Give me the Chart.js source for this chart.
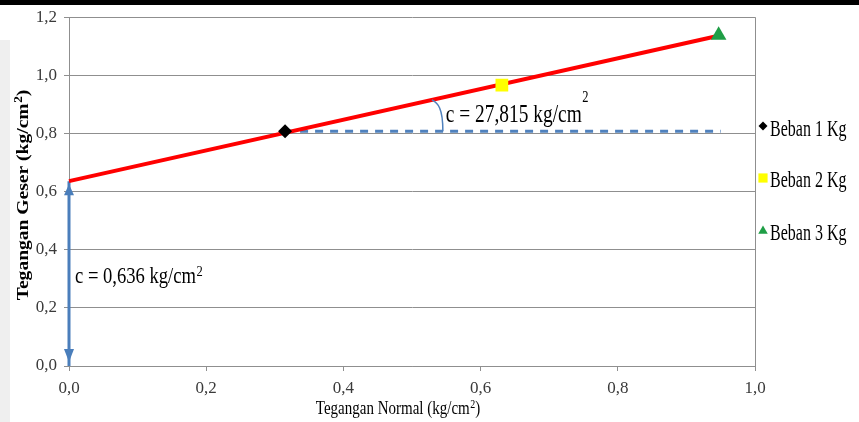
<!DOCTYPE html>
<html>
<head>
<meta charset="utf-8">
<title>Tegangan Geser vs Tegangan Normal</title>
<script src="https://cdn.jsdelivr.net/npm/chart.js@4.4.1/dist/chart.umd.min.js"></script>
<style>
  html, body { margin: 0; padding: 0; background: #ffffff; }
  #wrap { width: 859px; height: 422px; position: relative; }
  canvas { display: block; }
</style>
</head>
<body>
<div id="wrap"><canvas id="chart" width="859" height="422"></canvas></div>
<script>
// Direct shear test results: normal stress vs shear stress per load
const seriesNames  = ['Beban 1 Kg', 'Beban 2 Kg', 'Beban 3 Kg'];
const normalStress = [0.315, 0.631, 0.947];   // kg/cm2
const shearStress  = [0.808, 0.966, 1.138];   // kg/cm2

// Mohr-Coulomb failure envelope
const cohesion      = 0.636;    // kg/cm2, intercept
const frictionAngle = 27.815;   // degrees
const trendX = [0, 0.947];
const trendY = [0.636, 1.136];

// horizontal reference line from the first point, and the angle marker
const refLineEndX = 0.95;
const arcStartX = 0.529;
const arcEndX = 0.545;

const xTickLabels = ['0,0', '0,2', '0,4', '0,6', '0,8', '1,0'];
const yTickLabels = ['0,0', '0,2', '0,4', '0,6', '0,8', '1,0', '1,2'];

const SERIF = '"Liberation Serif", "Times New Roman", Times, serif';
const markerStyles = [
  { pointStyle: 'rectRot',  color: '#000000', radius: 7, legendRadius: 4.5 },
  { pointStyle: 'rect',     color: '#ffff00', radius: 9, legendRadius: 6.5 },
  { pointStyle: 'triangle', color: '#1f9e46', radius: 9, legendRadius: 5.5 }
];

const fmt = (v) => String(v).replace('.', ',');

const pointSets = seriesNames.map((name, i) => ({
  label: name,
  data: [{ x: normalStress[i], y: shearStress[i] }],
  pointStyle: markerStyles[i].pointStyle,
  pointRadius: markerStyles[i].radius,
  pointBackgroundColor: markerStyles[i].color,
  pointBorderColor: markerStyles[i].color,
  pointBorderWidth: 0,
  showLine: false
}));

const trendSet = {
  label: 'trend',
  data: trendX.map((x, i) => ({ x, y: trendY[i] })),
  showLine: true,
  borderColor: '#ff0000',
  borderWidth: 4,
  pointRadius: 0,
  clip: false
};

const refSet = {
  label: 'ref',
  data: [{ x: normalStress[0], y: shearStress[0] }, { x: refLineEndX, y: shearStress[0] }],
  showLine: true,
  borderColor: '#4f81bd',
  borderWidth: 3,
  borderDash: [8, 7],
  pointRadius: 0
};

const cohesionSet = {
  label: 'c',
  data: [{ x: 0, y: cohesion }, { x: 0, y: 0 }],
  showLine: true,
  borderColor: '#4a7ebb',
  borderWidth: 3,
  pointRadius: 0,
  clip: false
};

function drawText(ctx, text, x, y, size, weight, sy) {
  ctx.save();
  ctx.translate(x, y);
  ctx.scale(1, sy);
  ctx.font = `${weight} ${size}px ${SERIF}`;
  ctx.textAlign = 'left';
  ctx.textBaseline = 'alphabetic';
  ctx.fillText(text, 0, 0);
  const w = ctx.measureText(text).width;
  ctx.restore();
  return w;
}

function measure(ctx, text, size, weight) {
  ctx.save();
  ctx.font = `${weight} ${size}px ${SERIF}`;
  const w = ctx.measureText(text).width;
  ctx.restore();
  return w;
}

// unit text "kg/cm" followed by a raised 2
function drawUnitLabel(ctx, main, tail, x, y, size, weight, sy, supSize, supRise) {
  let cx = x;
  cx += drawText(ctx, main, cx, y, size, weight, sy);
  cx += 0.5;
  cx += drawText(ctx, '2', cx, y - supRise, supSize, weight, sy);
  if (tail) cx += drawText(ctx, tail, cx, y, size, weight, sy);
  return cx - x;
}

const decorations = {
  id: 'decorations',
  beforeDraw(chart) {
    const { ctx, width, height } = chart;
    ctx.save();
    ctx.fillStyle = '#ffffff';
    ctx.fillRect(0, 0, width, height);
    ctx.fillStyle = '#000000';
    ctx.fillRect(0, 0, width, 5);
    ctx.fillStyle = '#efefef';
    ctx.fillRect(0, 40, 10, height - 40);
    ctx.restore();
  },
  afterDatasetsDraw(chart) {
    const { ctx, scales: { x, y } } = chart;
    ctx.save();

    // arrowheads on the cohesion arrow
    ctx.fillStyle = '#4a7ebb';
    const ax = x.getPixelForValue(0);
    const top = y.getPixelForValue(cohesion) + 3;
    const bot = y.getPixelForValue(0) - 4;
    ctx.beginPath();
    ctx.moveTo(ax, top);
    ctx.lineTo(ax - 5, top + 11);
    ctx.lineTo(ax + 5, top + 11);
    ctx.closePath();
    ctx.fill();
    ctx.beginPath();
    ctx.moveTo(ax, bot);
    ctx.lineTo(ax - 5, bot - 13);
    ctx.lineTo(ax + 5, bot - 13);
    ctx.closePath();
    ctx.fill();

    // friction angle arc between the envelope and the horizontal line
    const slope = (trendY[1] - trendY[0]) / (trendX[1] - trendX[0]);
    const p0x = x.getPixelForValue(arcStartX);
    const p0y = y.getPixelForValue(trendY[0] + slope * arcStartX);
    const p1x = x.getPixelForValue(arcEndX);
    const p1y = y.getPixelForValue(shearStress[0]);
    ctx.strokeStyle = '#4f81bd';
    ctx.lineWidth = 1.5;
    ctx.beginPath();
    ctx.moveTo(p0x, p0y);
    ctx.bezierCurveTo(p0x + 6, p0y + 3, p1x, p0y + 8, p1x, p1y);
    ctx.stroke();

    // annotations
    ctx.fillStyle = '#000000';
    drawUnitLabel(ctx, `c = ${fmt(frictionAngle)} kg/cm`, '', p1x + 3, 122, 19.4, 'normal', 1.33, 12.5, 20);
    drawUnitLabel(ctx, `c = ${fmt(cohesion)} kg/cm`, '', 75, 283, 18.6, 'normal', 1.25, 12.5, 7);
    ctx.restore();
  },
  afterDraw(chart) {
    const { ctx } = chart;
    ctx.save();
    ctx.fillStyle = '#000000';

    // x axis title
    const xMain = 'Tegangan Normal (kg/cm';
    const xw = measure(ctx, xMain, 15, 'normal') + 0.5 + measure(ctx, '2', 10, 'normal') + measure(ctx, ')', 15, 'normal');
    drawUnitLabel(ctx, xMain, ')', 398 - xw / 2, 414, 15, 'normal', 1.3, 10, 6);

    // y axis title, rotated and stretched along its length
    const yMain = 'Tegangan Geser (kg/cm';
    const ys = 1.15;
    const yw = (measure(ctx, yMain, 17, 'bold') + 0.5 + measure(ctx, '2', 11.5, 'bold') + measure(ctx, ')', 17, 'bold')) * ys;
    ctx.save();
    ctx.translate(28, 195 + yw / 2);
    ctx.rotate(-Math.PI / 2);
    ctx.scale(ys, 1);
    drawUnitLabel(ctx, yMain, ')', 0, 0, 17, 'bold', 1, 11.5, 6.5);
    ctx.restore();

    // legend
    const legendY = [136, 187, 240];
    const markerY = [126, 178, 231];
    seriesNames.forEach((name, i) => {
      const st = markerStyles[i];
      ctx.fillStyle = st.color;
      ctx.strokeStyle = st.color;
      Chart.helpers.drawPoint(ctx, { pointStyle: st.pointStyle, radius: st.legendRadius, rotation: 0, borderWidth: 0 }, 763, markerY[i]);
      ctx.fillStyle = '#000000';
      drawText(ctx, name, 770, legendY[i], 16, 'normal', 1.4);
    });
    ctx.restore();
  }
};

new Chart(document.getElementById('chart'), {
  type: 'scatter',
  data: { datasets: [...pointSets, trendSet, refSet, cohesionSet] },
  options: {
    responsive: false,
    animation: false,
    devicePixelRatio: 1,
    layout: { padding: { left: 8, right: 104, top: 17, bottom: 0 } },
    plugins: {
      legend: { display: false },
      tooltip: { enabled: false },
      title: { display: false }
    },
    scales: {
      x: {
        type: 'linear',
        min: 0, max: 1,
        afterFit(scale) { scale.height = 56; },
        ticks: {
          stepSize: 0.2,
          padding: 7,
          color: '#3a3a3a',
          font: { family: SERIF, size: 17 },
          callback: (v, i) => xTickLabels[i]
        },
        grid: {
          color: (c) => (c.tick && Math.abs(c.tick.value - 1) < 1e-9) ? '#8f8f8f' : 'rgba(0,0,0,0)',
          tickColor: '#8f8f8f',
          tickLength: 5,
          lineWidth: 1
        },
        border: { display: true, color: '#8f8f8f', width: 1 }
      },
      y: {
        type: 'linear',
        min: 0, max: 1.2,
        afterFit(scale) { scale.width = 61; },
        ticks: {
          stepSize: 0.2,
          padding: 7,
          color: '#3a3a3a',
          font: { family: SERIF, size: 17 },
          callback: (v, i) => yTickLabels[i]
        },
        grid: {
          color: '#8f8f8f',
          tickColor: '#8f8f8f',
          tickLength: 5,
          lineWidth: 1
        },
        border: { display: true, color: '#8f8f8f', width: 1 }
      }
    }
  },
  plugins: [decorations]
});
</script>
</body>
</html>
